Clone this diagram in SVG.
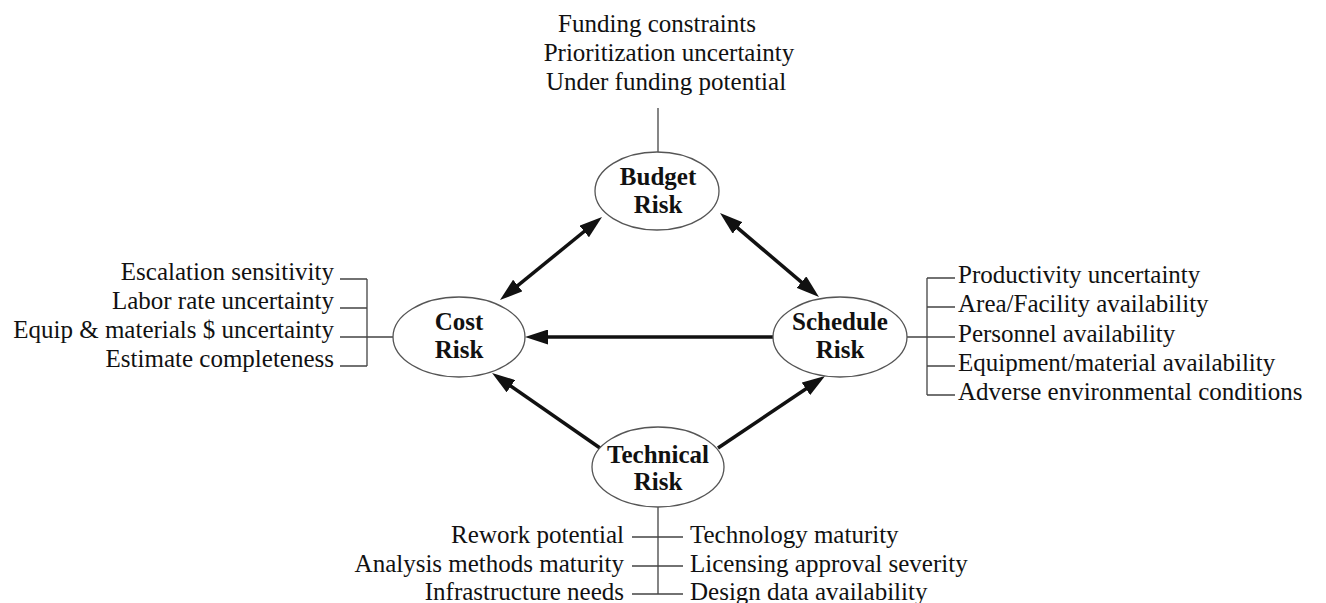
<svg xmlns="http://www.w3.org/2000/svg" width="1326" height="603" viewBox="0 0 1326 603">
<defs>
<style>
text{font-family:"Liberation Serif","Times New Roman",serif;fill:#111;}
.item{font-size:25px;}
.top{font-size:25px;}
.lbl{font-size:25px;font-weight:bold;text-anchor:middle;}
.node{fill:#fff;stroke:#555;stroke-width:1.3;}
.thin{stroke:#444;stroke-width:1.3;fill:none;}
.arrow{stroke:#111;stroke-width:3.5;fill:none;}
</style>
<marker id="ah" markerUnits="userSpaceOnUse" markerWidth="23" markerHeight="15" refX="15" refY="7.5" orient="auto-start-reverse">
<path d="M0,0 L23,7.5 L0,15 z" fill="#111"/>
</marker>
</defs>
<rect width="1326" height="603" fill="#fff"/>

<g id="connectors">
<line class="arrow" x1="506.2" y1="295" x2="595.8" y2="222" marker-start="url(#ah)" marker-end="url(#ah)"/>
<line class="arrow" x1="726.1" y1="218.2" x2="812.9" y2="291.8" marker-start="url(#ah)" marker-end="url(#ah)"/>
<line class="arrow" x1="773" y1="337" x2="533" y2="337" marker-end="url(#ah)"/>
<line class="arrow" x1="600" y1="448" x2="498.6" y2="377.6" marker-end="url(#ah)"/>
<line class="arrow" x1="718" y1="448" x2="818.4" y2="380.5" marker-end="url(#ah)"/>
</g>

<g id="budget-factors">
<text class="top" x="657" y="32" text-anchor="middle">Funding constraints</text>
<text class="top" x="669" y="61" text-anchor="middle">Prioritization uncertainty</text>
<text class="top" x="666" y="90" text-anchor="middle">Under funding potential</text>
<line class="thin" x1="658" y1="108" x2="658" y2="152"/>
</g>

<g id="cost-factors">
<text class="item" x="334" y="280" text-anchor="end">Escalation sensitivity</text>
<text class="item" x="334" y="309" text-anchor="end">Labor rate uncertainty</text>
<text class="item" x="334" y="338" text-anchor="end">Equip &amp; materials $ uncertainty</text>
<text class="item" x="334" y="367" text-anchor="end">Estimate completeness</text>
<path class="thin" d="M340,279 H367 M340,308 H367 M340,337 H393 M340,366 H367 M367,279 V366"/>
</g>

<g id="schedule-factors">
<text class="item" x="958" y="283">Productivity uncertainty</text>
<text class="item" x="958" y="312">Area/Facility availability</text>
<text class="item" x="958" y="342">Personnel availability</text>
<text class="item" x="958" y="371">Equipment/material availability</text>
<text class="item" x="958" y="400">Adverse environmental conditions</text>
<path class="thin" d="M907,337 H927 M927,278 V395 M927,278 H955 M927,307 H955 M927,337 H955 M927,366 H955 M927,395 H955"/>
</g>

<g id="technical-factors">
<text class="item" x="624" y="543" text-anchor="end">Rework potential</text>
<text class="item" x="624" y="572" text-anchor="end">Analysis methods maturity</text>
<text class="item" x="624" y="600" text-anchor="end">Infrastructure needs</text>
<text class="item" x="690" y="543">Technology maturity</text>
<text class="item" x="690" y="572">Licensing approval severity</text>
<text class="item" x="690" y="600">Design data availability</text>
<path class="thin" d="M658,507 V594 M632,537 H683 M632,566 H683 M632,594 H683"/>
</g>

<g id="budget-risk">
<ellipse class="node" cx="657" cy="191" rx="62" ry="39"/>
<text class="lbl" x="658" y="185">Budget</text>
<text class="lbl" x="658" y="213">Risk</text>
</g>

<g id="cost-risk">
<ellipse class="node" cx="459" cy="337" rx="66" ry="40"/>
<text class="lbl" x="459" y="330">Cost</text>
<text class="lbl" x="459" y="358">Risk</text>
</g>

<g id="schedule-risk">
<ellipse class="node" cx="840" cy="337" rx="67" ry="40"/>
<text class="lbl" x="840" y="330">Schedule</text>
<text class="lbl" x="840" y="358">Risk</text>
</g>

<g id="technical-risk">
<ellipse class="node" cx="658" cy="467" rx="66" ry="40"/>
<text class="lbl" x="658" y="463">Technical</text>
<text class="lbl" x="658" y="490">Risk</text>
</g>
</svg>
